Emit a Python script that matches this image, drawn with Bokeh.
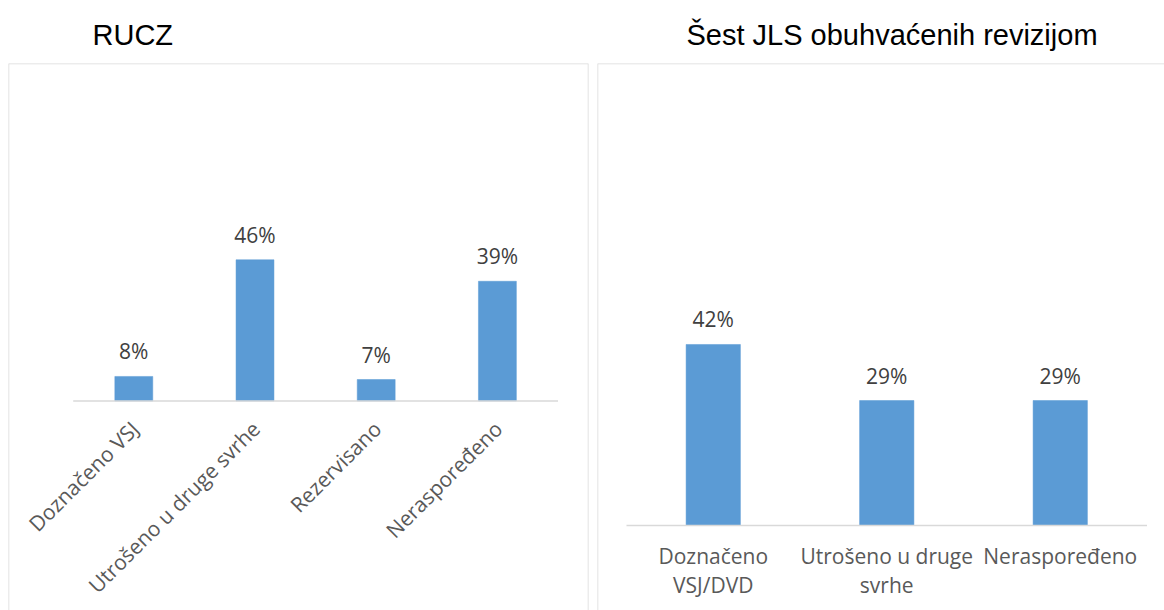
import numpy as np
from bokeh.plotting import figure
from bokeh.layouts import row
from bokeh.models import Range1d, ColumnDataSource, Span
from bokeh.core.properties import value
from bokeh.embed import file_html
from bokeh.resources import INLINE

# ---- data ----
left_title = "RUCZ"
left_categories = ["Doznačeno VSJ", "Utrošeno u druge svrhe", "Rezervisano", "Neraspoređeno"]
left_values = [8, 46, 7, 39]

right_title = "Šest JLS obuhvaćenih revizijom"
right_categories = ["Doznačeno\nVSJ/DVD", "Utrošeno u druge\nsvrhe", "Neraspoređeno"]
right_values = [42, 29, 29]

BAR = "#5B9BD5"
GRID = "#D9D9D9"
LABEL = "#404040"
CAT = "#595959"
FONT = "Open Sans"

FRAME_TOP = 63
FRAME_BOTTOM = 610


def make_panel(title, cats, vals, width, height, x_range, y_range,
               min_left, min_right, title_offset, rotated, right_edge):
    n = len(cats)
    x = np.arange(n) + 0.5
    src = ColumnDataSource(dict(
        x=x, top=vals, cat=cats, lab=[f"{v}%" for v in vals]))
    p = figure(width=width, height=height, output_backend="svg",
               toolbar_location=None, x_axis_type=None, y_axis_type=None,
               x_range=x_range, y_range=y_range,
               min_border_left=min_left, min_border_right=min_right,
               min_border_top=FRAME_TOP, min_border_bottom=0,
               title=title)
    p.grid.visible = False
    p.background_fill_color = "white"
    p.border_fill_color = "white"
    p.outline_line_color = None
    # chart-area box: top, left (and right where visible); bottom is off-page
    p.add_layout(Span(location=y_range.end, dimension="width",
                      line_color=GRID, line_width=1.5))
    p.add_layout(Span(location=x_range.start, dimension="height",
                      line_color=GRID, line_width=1.5))
    if right_edge:
        p.add_layout(Span(location=x_range.end, dimension="height",
                          line_color=GRID, line_width=1.5))

    p.title.text_font = "Liberation Sans"
    p.title.text_font_size = "29px"
    p.title.text_font_style = "normal"
    p.title.text_color = "black"
    p.title.align = "left"
    p.title.offset = title_offset
    p.title.standoff = 25

    p.vbar(x="x", top="top", bottom=0, width=0.313, source=src,
           fill_color=BAR, line_color=BAR, line_width=0.5)
    # baseline (category axis line)
    p.line(x=[0, n], y=[0, 0], line_color=GRID, line_width=1.5)
    # data labels
    p.text(x="x", y="top", text="lab", source=src, text_align="center",
           text_baseline="alphabetic", y_offset=-25,
           text_font=value(FONT), text_font_size="21px", text_color=LABEL)
    # category labels
    if rotated:
        p.text(x="x", y=0, text="cat", source=src, angle=np.pi / 4,
               text_align="right", text_baseline="middle",
               x_offset=1, y_offset=24,
               text_font=value(FONT), text_font_size="21px", text_color=CAT)
    else:
        p.text(x="x", y=0, text="cat", source=src,
               text_align="center", text_baseline="top", y_offset=16,
               text_line_height=1.05,
               text_font=value(FONT), text_font_size="21px", text_color=CAT)
    return p


# left panel: frame 8..588 px, baseline at y=400.5, 3.07 px per %
lu = 121.2
p1 = make_panel(left_title, left_categories, left_values,
                width=593, height=610,
                x_range=Range1d(-(72.7 - 8) / lu, len(left_categories) + (588 - 557.5) / lu),
                y_range=Range1d(-(FRAME_BOTTOM - 400.5) / 3.07, (400.5 - FRAME_TOP) / 3.07),
                min_left=8, min_right=5, title_offset=84, rotated=True,
                right_edge=True)

# right panel: frame 597..1164 px, baseline at y=525, 4.31 px per %
ru = 173.5
p2 = make_panel(right_title, right_categories, right_values,
                width=571, height=610,
                x_range=Range1d(-(626 - 597) / ru, (1164 - 626) / ru),
                y_range=Range1d(-(FRAME_BOTTOM - 525) / 4.31, (525 - FRAME_TOP) / 4.31),
                min_left=4, min_right=0, title_offset=89, rotated=False,
                right_edge=False)

layout = row(p1, p2)
open("out.html", "w").write(file_html(layout, INLINE))
